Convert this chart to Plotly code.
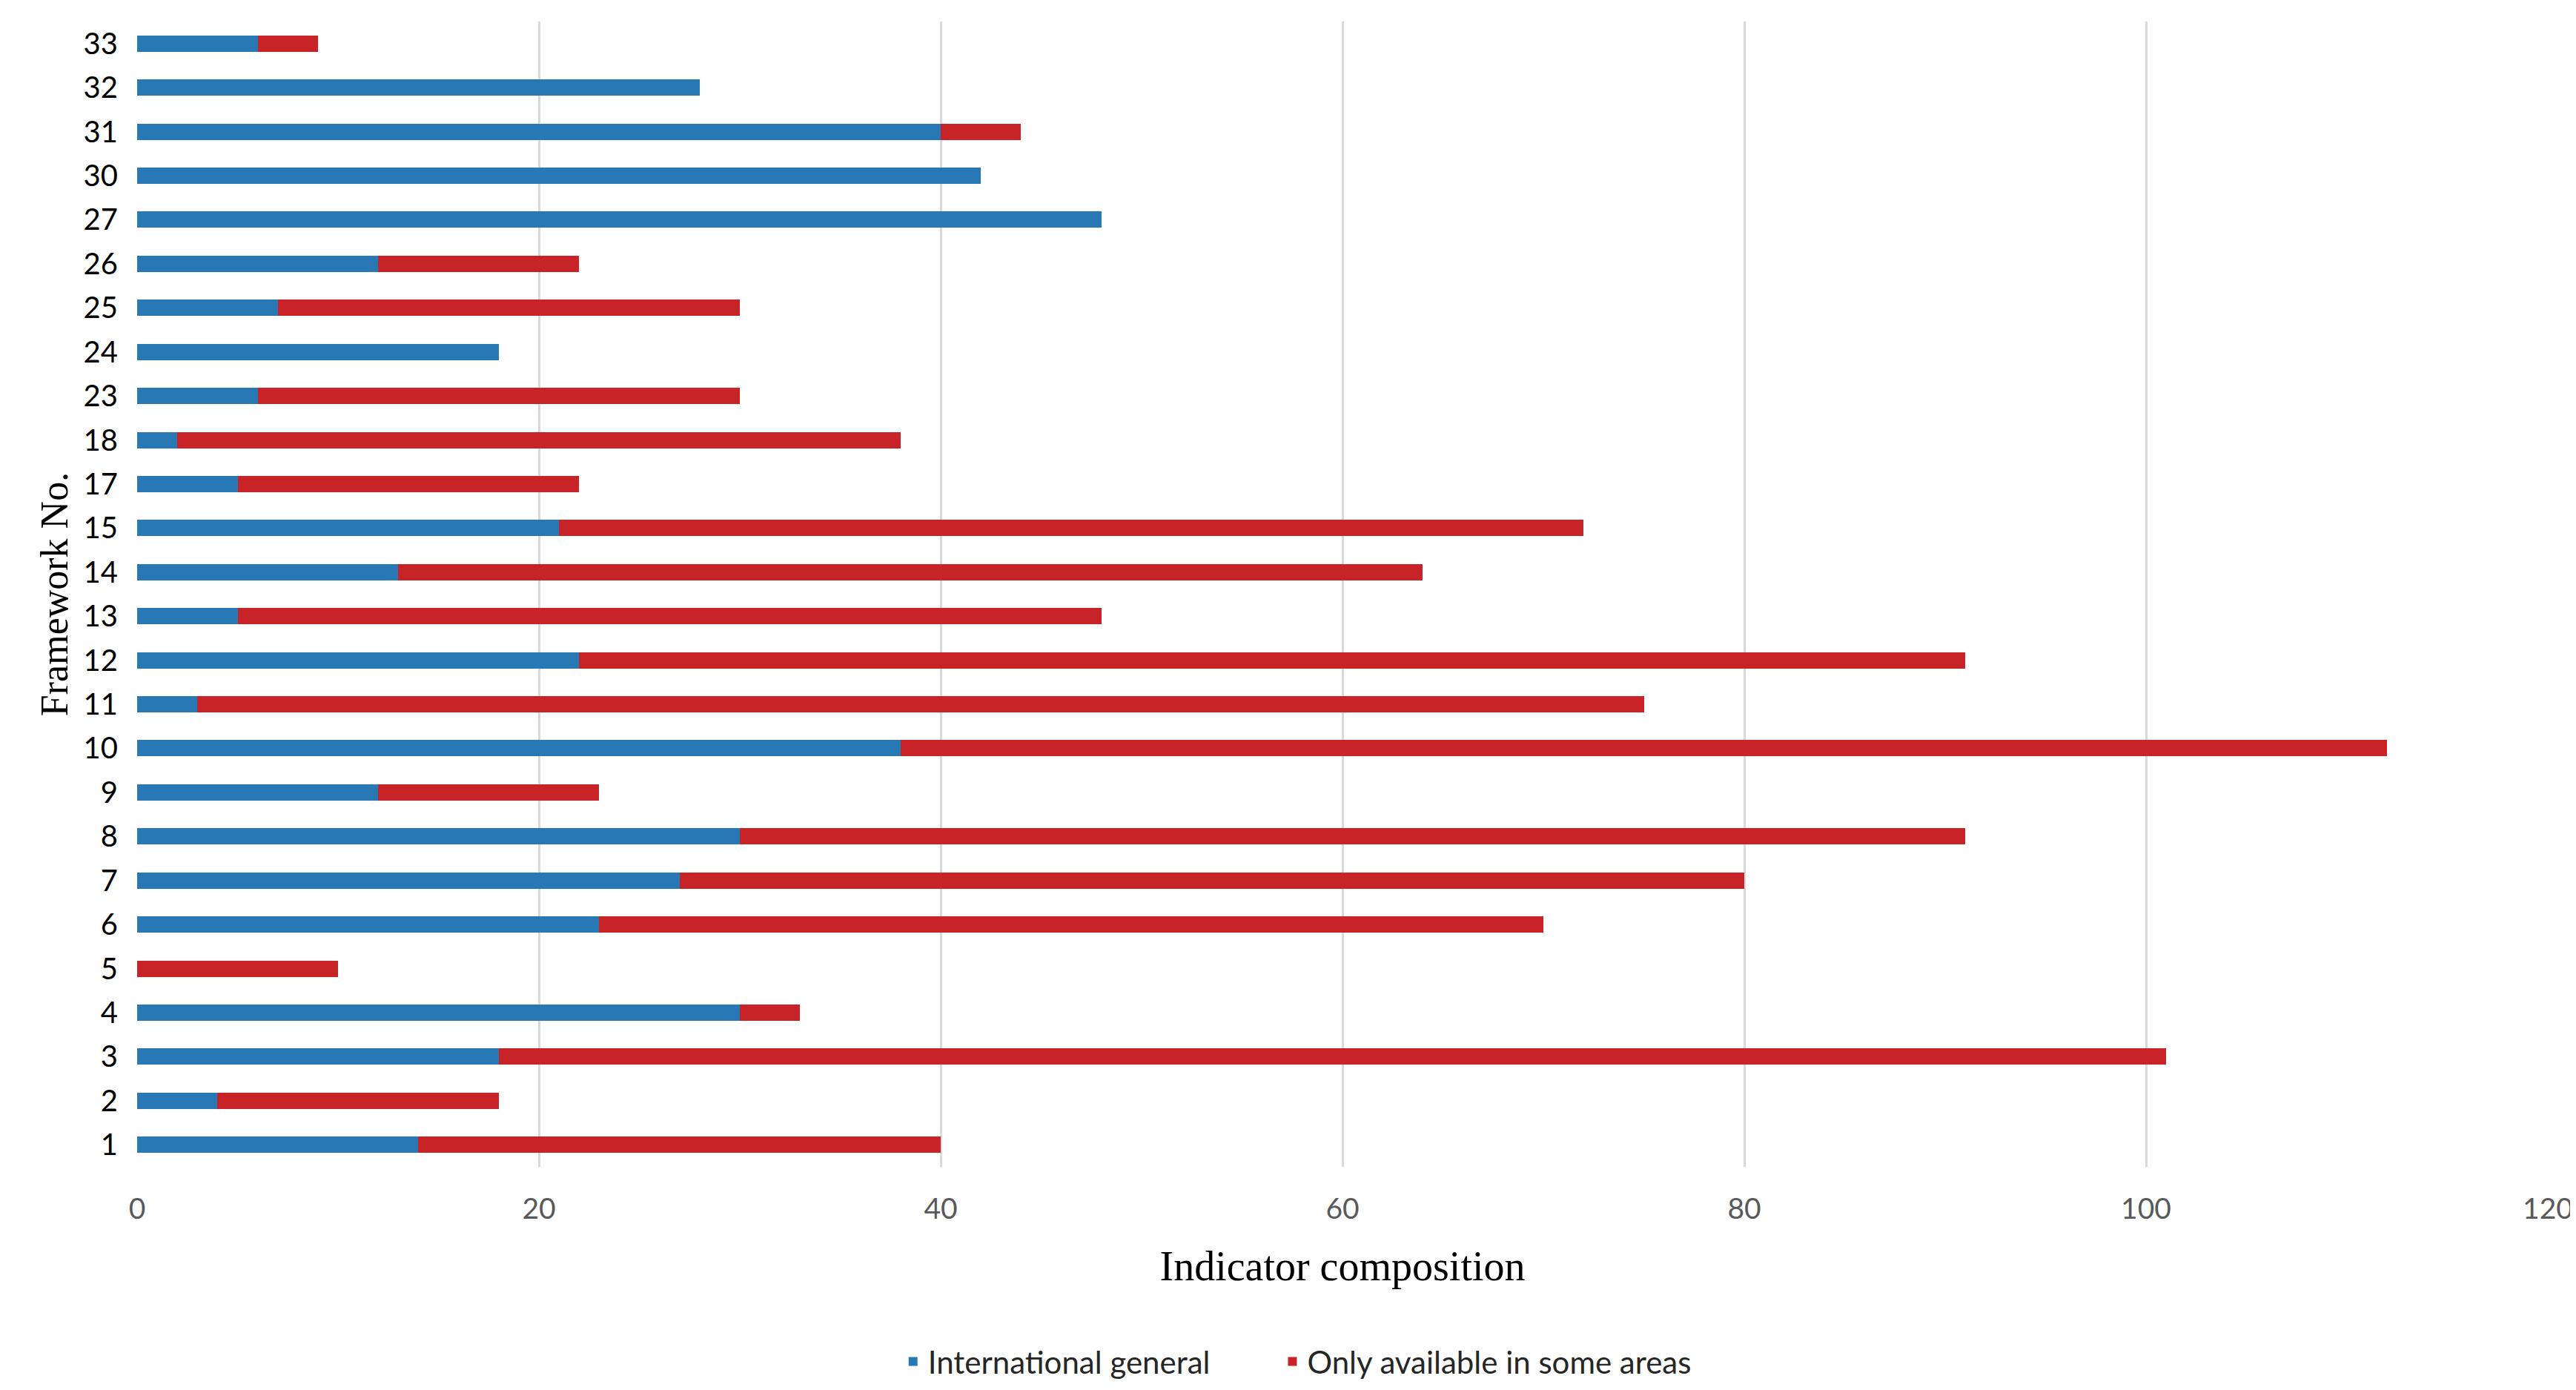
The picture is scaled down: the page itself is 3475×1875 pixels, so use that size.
import plotly.graph_objects as go

frameworks = ["1", "2", "3", "4", "5", "6", "7", "8", "9", "10", "11", "12",
              "13", "14", "15", "17", "18", "23", "24", "25", "26", "27",
              "30", "31", "32", "33"]
international_general = [14, 4, 18, 30, 0, 23, 27, 30, 12, 38, 3, 22,
                         5, 13, 21, 5, 2, 6, 18, 7, 12, 48,
                         42, 40, 28, 6]
some_areas_only = [26, 14, 83, 3, 10, 47, 53, 61, 11, 74, 72, 69,
                   43, 51, 51, 17, 36, 24, 0, 23, 10, 0,
                   0, 4, 0, 3]
x_ticks = [0, 20, 40, 60, 80, 100, 120]

BLUE = "#2878B5"
RED = "#C82428"
SANS = "Lato, 'Open Sans', sans-serif"
SERIF = "'Liberation Serif', 'DejaVu Serif', serif"
GAP = "\u00a0" * 8

fig = go.Figure()
fig.add_trace(go.Bar(
    y=frameworks, x=international_general, orientation="h",
    name="International general" + GAP, marker=dict(color=BLUE, line=dict(width=0)),
))
fig.add_trace(go.Bar(
    y=frameworks, x=some_areas_only, orientation="h",
    name="Only available in some areas", marker=dict(color=RED, line=dict(width=0)),
))

fig.update_layout(
    width=3475, height=1875,
    barmode="stack", bargap=0.63,
    plot_bgcolor="white", paper_bgcolor="white",
    margin=dict(l=177, r=46, t=21, b=299),
    font=dict(family=SANS, size=40, color="#404040"),
    legend=dict(
        orientation="h", x=0.481, xanchor="center", y=-0.17, yanchor="middle",
        font=dict(family=SANS, size=42, color="#262626"),
        itemwidth=30, traceorder="normal",
    ),
    xaxis=dict(
        range=[0, 120], tickvals=x_ticks, ticktext=[str(v) for v in x_ticks],
        showgrid=True, gridcolor="#D9D9D9", gridwidth=3,
        zeroline=False, showline=False, ticks="",
        ticklabelstandoff=30,
        tickfont=dict(family=SANS, size=39, color="#595959"),
        title=dict(text="Indicator composition", standoff=36,
                   font=dict(family=SERIF, size=56, color="#000000")),
    ),
    yaxis=dict(
        type="category", categoryorder="array", categoryarray=frameworks,
        showgrid=False, zeroline=False, showline=False, ticks="",
        ticklabelstandoff=25,
        tickfont=dict(family=SANS, size=40, color="#000000"),
        title=dict(text="Framework No.", standoff=4,
                   font=dict(family=SERIF, size=52, color="#000000")),
    ),
)

fig.write_html("out.html")
